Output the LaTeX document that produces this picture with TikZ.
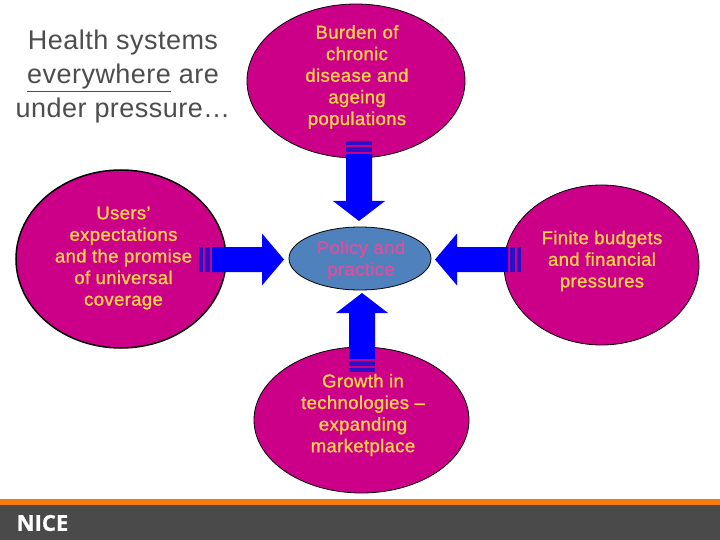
\documentclass[tikz,border=0pt]{standalone}
\usepackage{fontspec}
\setmainfont{Liberation Sans}
\newfontfamily\logofont[FakeBold=1]{Open Sans}
\usetikzlibrary{shapes.geometric}
\definecolor{mag}{HTML}{CC0088}
\definecolor{arrowblue}{HTML}{0000FF}
\definecolor{stripeblue}{HTML}{2A10C8}
\definecolor{txtyellow}{HTML}{FFD24A}
\definecolor{centerblue}{HTML}{4F81BD}
\definecolor{centertxt}{HTML}{D9509F}
\definecolor{titlegray}{HTML}{4D4D4D}
\definecolor{footergray}{HTML}{4A4A4A}
\definecolor{footerorange}{HTML}{F47C0F}
\newfontfamily\blobfont[LetterSpace=2,FakeBold=1.2]{Liberation Sans}
\newfontfamily\titlefont[LetterSpace=1.7]{Liberation Sans}
\tikzset{
  blob/.style={ellipse,draw=black,line width=0.8pt,fill=mag,inner sep=0pt},
  blobtext/.style={text=txtyellow,align=center,inner sep=0pt,font=\blobfont\fontsize{18.5}{21.6}\selectfont},
}
\newcommand{\blockarrow}[5]{%
  \begin{scope}[shift={(#1)},rotate=#2]
    \fill[arrowblue] (0,0) -- (-#3,26) -- (-#3,#5) -- (-#4,#5) -- (-#4,-#5) -- (-#3,-#5) -- (-#3,-26) -- cycle;
    \fill[stripeblue] (-#4-2,-#5) rectangle (-#4-7,#5);
    \fill[stripeblue] (-#4-9,-#5) rectangle (-#4-13,#5);
  \end{scope}}
\begin{document}
\begin{tikzpicture}[x=1pt,y=-1pt]
\useasboundingbox (0,0) rectangle (720,540);
\fill[white] (0,0) rectangle (720,540);
% footer
\fill[footergray] (0,505) rectangle (720,540);
\fill[footerorange] (0,499) rectangle (720,505);
\node[anchor=west,inner sep=0pt,text=white] (logo) at (16.5,523) {\fontsize{22}{22}\logofont\bfseries NICE};
% title
\node[align=center,inner sep=0pt,text=titlegray,font=\titlefont\fontsize{27}{34}\selectfont] (title) at (123,77)
  {Health systems\\\underline{everywhere} are\\under pressure…};
% ellipses
\node[blob,minimum width=218pt,minimum height=154pt] (top) at (356,81) {};
\node[blob,line width=1.5pt,minimum width=210pt,minimum height=178pt] (left) at (121,259) {};
\node[blob,minimum width=195pt,minimum height=160pt] (right) at (601.5,265) {};
\node[blob,minimum width=215pt,minimum height=146pt] (bottom) at (361.5,420) {};
\node[ellipse,draw=black,line width=0.8pt,fill=centerblue,inner sep=0pt,minimum width=142pt,minimum height=63pt] (centre) at (360,258.5) {};
% block arrows
\coordinate (tipN) at (359,221);
\coordinate (tipW) at (284,259.5);
\coordinate (tipE) at (435,259.5);
\coordinate (tipS) at (362,293);
\blockarrow{tipN}{-90}{20}{67}{13}
\blockarrow{tipW}{0}{22}{72}{12.5}
\blockarrow{tipE}{180}{22}{73}{12.5}
\blockarrow{tipS}{90}{20}{66}{13}
% labels
\node[blobtext] (toptext) at (357,77) {Burden of\\chronic\\disease and\\ageing\\populations};
\node[blobtext] (lefttext) at (123.5,258) {Users’\\expectations\\and the promise\\of universal\\coverage};
\node[blobtext] (righttext) at (602,261) {Finite budgets\\and financial\\pressures};
\node[blobtext] (bottomtext) at (363,415) {Growth in\\technologies –\\expanding\\marketplace};
\node[blobtext,text=centertxt] (centretext) at (361,260) {Policy and\\practice};
\end{tikzpicture}
\end{document}
